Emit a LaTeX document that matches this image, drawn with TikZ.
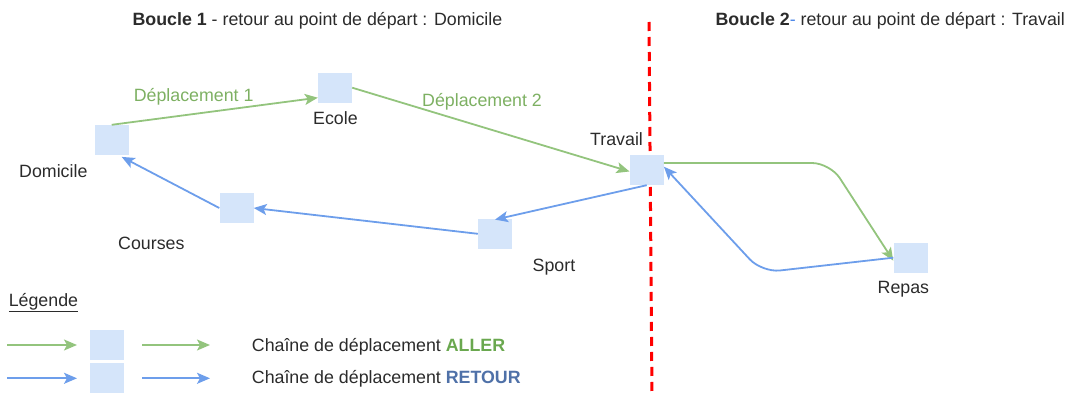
\documentclass[tikz,border=0pt]{standalone}
\usepackage{fontspec}
\setmainfont{Liberation Sans}
\usetikzlibrary{arrows.meta}
\definecolor{gline}{HTML}{93C47D}
\definecolor{bline}{HTML}{6D9EEB}
\definecolor{boxfill}{HTML}{D5E5FA}
\definecolor{txt}{HTML}{2B2B2B}
\definecolor{glabel}{HTML}{7DB062}
\definecolor{galler}{HTML}{6AA84F}
\definecolor{bretour}{HTML}{4F71A8}
\definecolor{bdash}{HTML}{4A86E8}
\tikzset{
  place/.style={fill=boxfill, draw=none, minimum width=34pt, minimum height=30pt, inner sep=0pt},
  lbl/.style={inner sep=0pt, anchor=base west, text=txt, font=\fontsize{17.8}{21}\selectfont},
  glbl/.style={lbl, text=glabel},
  tip/.style={-{Stealth[length=13pt,width=11pt,inset=3pt]}},
  garrow/.style={draw=gline, line width=1.8pt, tip},
  barrow/.style={draw=bline, line width=1.8pt, tip},
  sep/.style={draw=red, line width=3pt, dash pattern=on 9pt off 6pt}
}
\begin{document}
\begin{tikzpicture}[x=1pt,y=-1pt]
\useasboundingbox (0,0) rectangle (1069,396);
% titles
\node[lbl] (t1) at (132.4,26) {\textbf{Boucle 1} - retour au point de départ : Domicile};
\node[lbl] (t2) at (715.4,26) {\textbf{Boucle 2}\textcolor{bdash}{-} retour au point de départ : Travail};
% separator
\coordinate (s1) at (649,22);
\coordinate (s2) at (652,396);
\draw[sep] (s1) -- (s2);
% places
\node[place] (dom) at (111.7,140) {};
\node[place] (eco) at (335,87.7) {};
\node[place] (tra) at (646.7,170) {};
\node[place] (cou) at (236.5,208) {};
\node[place] (spo) at (495,233.8) {};
\node[place] (rep) at (910.5,257.7) {};
% labels
\node[lbl] (ldom) at (19,177.4) {Domicile};
\node[lbl] (leco) at (313,124.7) {Ecole};
\node[lbl] (ltra) at (590,145) {Travail};
\node[lbl] (lcou) at (118,249) {Courses};
\node[lbl] (lspo) at (532.5,271.4) {Sport};
\node[lbl] (lrep) at (877.5,293) {Repas};
\node[glbl] (ld1) at (133.6,101.4) {Déplacement 1};
\node[glbl] (ld2) at (422,106.4) {Déplacement 2};
% aller
\draw[garrow] (dom.north) -- ([yshift=-10pt]eco.west);
\draw[garrow] (eco.east) -- ([yshift=-1.5pt]tra.west);
\coordinate (gc) at (830,163);
\draw[garrow, rounded corners=18pt] ([yshift=7pt]tra.east) -- (gc) -- ([yshift=-3pt]rep.west);
% retour
\coordinate (bc) at (762,272.5);
\draw[barrow, rounded corners=18pt] (rep.west) -- (bc) -- ([yshift=3.3pt]tra.east);
\draw[barrow] (tra.south) -- ([yshift=-1pt]spo.north);
\draw[barrow] (spo.west) -- (cou.east);
\draw[barrow] (cou.west) -- ([xshift=10pt,yshift=-1.7pt]dom.south);
% legend
\node[lbl] (leg) at (8.6,306.4) {\underline{Légende}};
\node[place] (lga) at (107,345) {};
\node[place] (lgr) at (107,378.3) {};
\coordinate (a1) at (7,345); \coordinate (a2) at (77,345);
\coordinate (a3) at (142,345); \coordinate (a4) at (210,345);
\coordinate (r1) at (7,378.3); \coordinate (r2) at (77,378.3);
\coordinate (r3) at (142,378.3); \coordinate (r4) at (210,378.3);
\draw[garrow] (a1) -- (a2);
\draw[garrow] (a3) -- (a4);
\draw[barrow] (r1) -- (r2);
\draw[barrow] (r3) -- (r4);
\node[lbl] (la) at (251.7,351) {Chaîne de déplacement \textcolor{galler}{\textbf{ALLER}}};
\node[lbl] (lr) at (251.7,383.5) {Chaîne de déplacement \textcolor{bretour}{\textbf{RETOUR}}};
\end{tikzpicture}
\end{document}
